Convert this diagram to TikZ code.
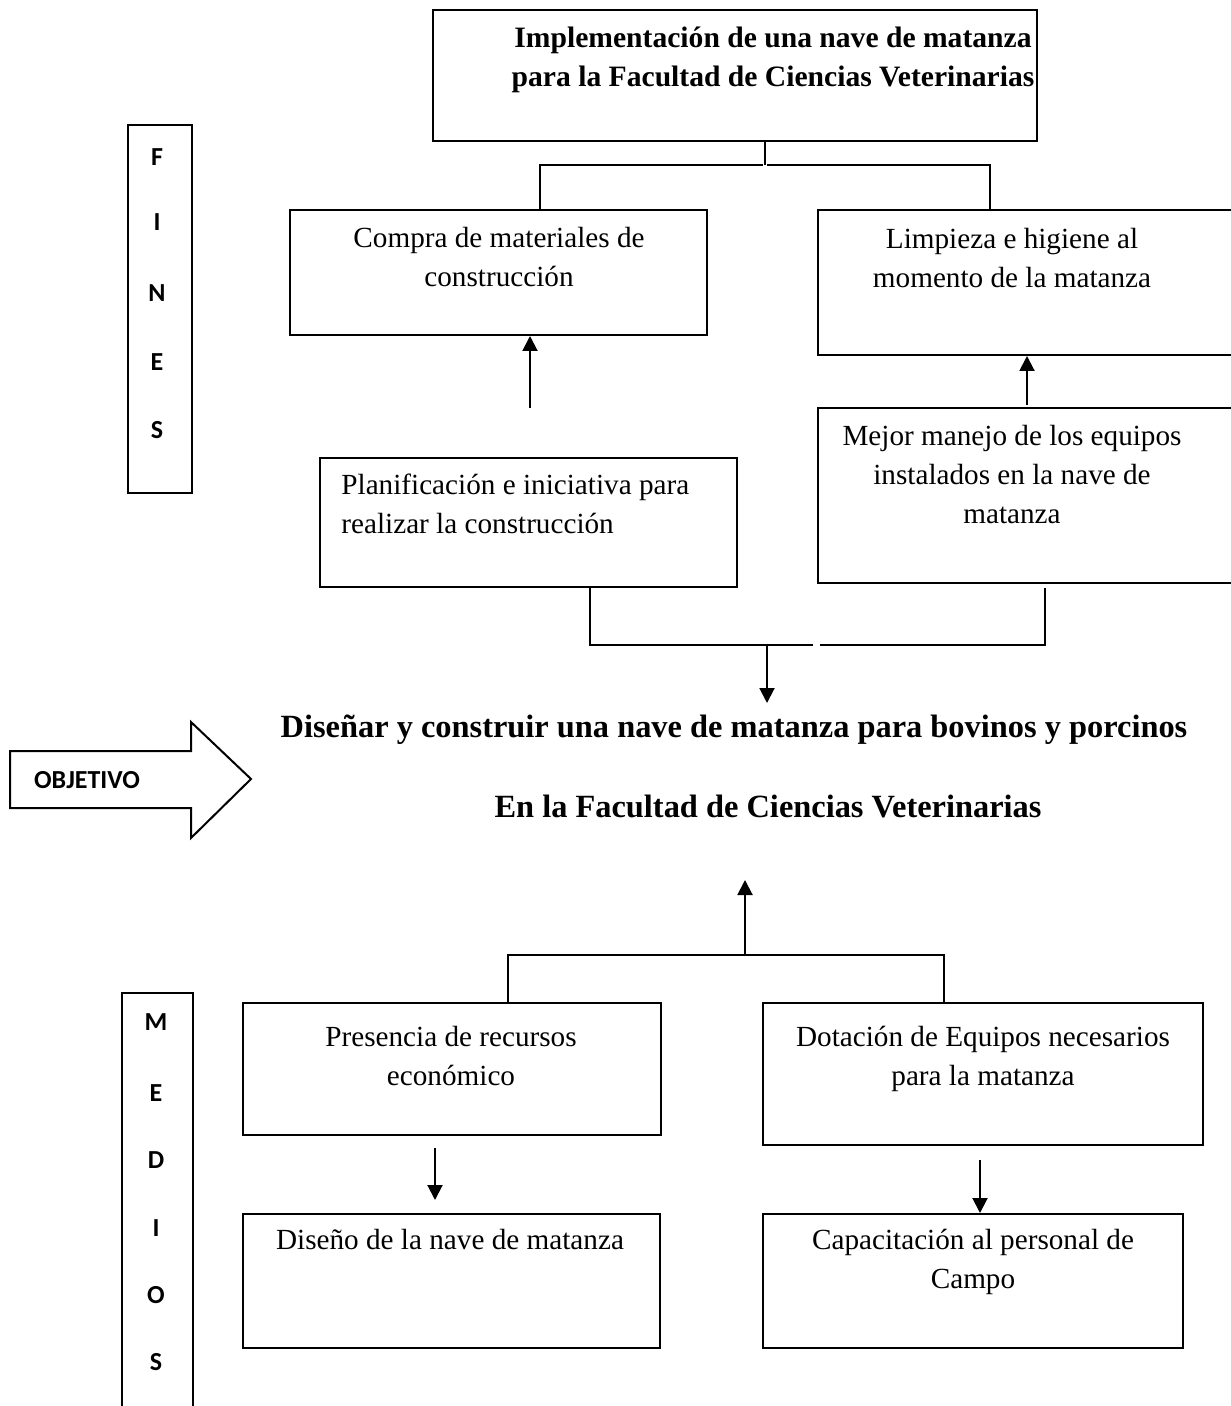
\documentclass[tikz,border=0pt]{standalone}
\usepackage{fontspec}
\setmainfont{Liberation Serif}
\newfontfamily\calib{Carlito}
\usetikzlibrary{fit,arrows.meta}
\begin{document}
\begin{tikzpicture}[x=0.5pt,y=-0.5pt,
  box/.style={draw,line width=1pt,inner sep=0pt},
  txt/.style={inner sep=0pt,anchor=north,align=center,font=\fontsize{14.6}{19.5}\selectfont},
  btxt/.style={txt,font=\fontsize{14.8}{19.5}\selectfont\bfseries},
  otxt/.style={txt,font=\fontsize{16.2}{19.5}\selectfont\bfseries},
  ltxt/.style={txt,align=left,anchor=north west},
  let/.style={inner sep=0pt,font=\calib\bfseries\fontsize{13}{15}\selectfont},
  conn/.style={line width=1pt},
  arr/.style={line width=1pt,-{Triangle[width=7.5pt,length=7.5pt]}}]
\useasboundingbox (0,0) rectangle (1230,1406);
% boxes
\node[box,fit={(433,10) (1037,141)}] (top) {};
\node[box,fit={(290,210) (707,335)}] (compra) {};
\node[box,fit={(818,210) (1236,355)}] (limp) {};
\node[box,fit={(320,458) (737,587)}] (plan) {};
\node[box,fit={(818,408) (1236,583)}] (mejor) {};
\node[box,fit={(243,1003) (661,1135)}] (pres) {};
\node[box,fit={(763,1003) (1203,1145)}] (dot) {};
\node[box,fit={(243,1214) (660,1348)}] (dis) {};
\node[box,fit={(763,1214) (1183,1348)}] (cap) {};
\node[box,fit={(128,125) (192,493)}] (fines) {};
\draw[line width=1pt] (122,1410) -- (122,993) -- (193,993) -- (193,1410);
% texts
\node[btxt] (ttop) at (773,27) {Implementación de una nave de matanza\\para la Facultad de Ciencias Veterinarias};
\node[txt] (tcompra) at (499,227) {Compra de materiales de\\construcción};
\node[txt] (tlimp) at (1012,228) {Limpieza e higiene al\\momento de la matanza};
\node[ltxt] (tplan) at (341,474) {Planificación e iniciativa para\\realizar la construcción};
\node[txt] (tmejor) at (1012,425) {Mejor manejo de los equipos\\instalados en la nave de\\matanza};
\node[otxt] (obj1) at (734,715) {Diseñar y construir una nave de matanza para bovinos y porcinos};
\node[otxt] (obj2) at (768,795) {En la Facultad de Ciencias Veterinarias};
\node[txt] (tpres) at (451,1026) {Presencia de recursos\\económico};
\node[txt] (tdot) at (983,1026) {Dotación de Equipos necesarios\\para la matanza};
\node[txt] (tdis) at (450,1229) {Diseño de la nave de matanza};
\node[txt] (tcap) at (973,1229) {Capacitación al personal de\\Campo};
% side letters
\foreach \l/\yy [count=\i] in {F/157,I/222,N/293,E/362,S/430}
  \node[let] (fl\i) at (157,\yy) {\l};
\foreach \l/\yy [count=\i] in {M/1022,E/1093,D/1160,I/1228,O/1295,S/1362}
  \node[let] (ml\i) at (156,\yy) {\l};
% objective arrow
\draw[line width=1pt] (10,751) -- (191,751) -- (191,722) -- (251,779) -- (191,838) -- (191,808) -- (10,808) -- cycle;
\node[let] (objt) at (87,780) {OBJETIVO};
% top connector
\coordinate (j1) at (765,165);
\coordinate (j1l) at (540,165);
\coordinate (j1r) at (990,165);
\draw[conn] (top.south -| j1) -- (j1);
\draw[conn] (compra.north -| j1l) -- (j1l) -- ([xshift=-1]j1);
\draw[conn] (limp.north -| j1r) -- (j1r) -- ([xshift=1]j1);
% arrows up
\coordinate (a1) at (530,408);
\draw[arr] (a1) -- (compra.south -| a1);
\coordinate (a2) at (1027,405);
\draw[arr] (a2) -- (limp.south -| a2);
% bottom connector
\coordinate (b1) at (590,645);
\coordinate (b2) at (1045,645);
\coordinate (bg1) at (813,645);
\coordinate (bg2) at (820,645);
\coordinate (bm) at (767,645);
\coordinate (bt) at (767,703);
\draw[conn] (plan.south -| b1) -- (b1) -- (bg1);
\draw[conn] (bg2) -- (b2) -- (1045,588);
\draw[arr] (bm) -- (bt);
% lower connector
\coordinate (c1) at (508,955);
\coordinate (c2) at (944,955);
\coordinate (cm) at (745,955);
\coordinate (ct) at (745,880);
\draw[conn] (pres.north -| c1) -- (c1) -- (c2) -- (dot.north -| c2);
\draw[arr] (cm) -- (ct);
% lower arrows
\coordinate (d1) at (435,1148);
\coordinate (d1t) at (435,1200);
\draw[arr] (d1) -- (d1t);
\coordinate (d2) at (980,1160);
\draw[arr] (d2) -- (cap.north -| d2);
\end{tikzpicture}
\end{document}
